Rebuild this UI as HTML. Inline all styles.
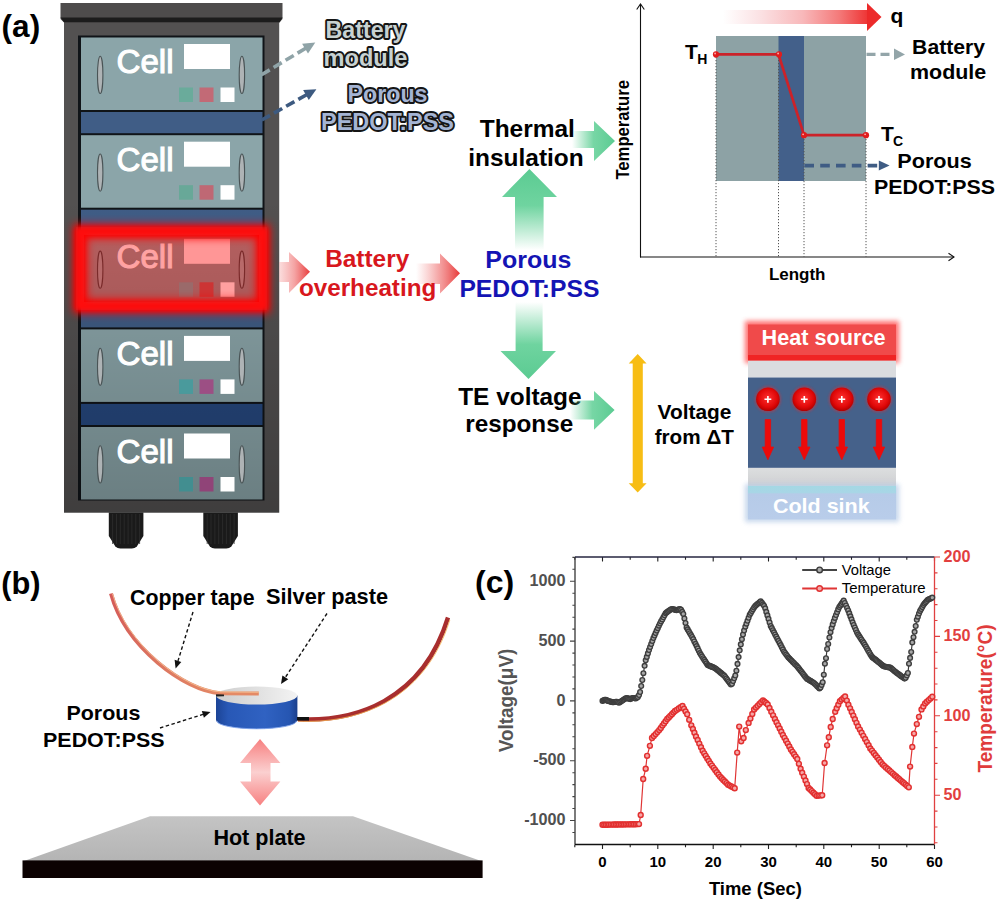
<!DOCTYPE html>
<html><head><meta charset="utf-8"><title>Figure</title>
<style>html,body{margin:0;padding:0;background:#fff;} body{width:1000px;height:904px;overflow:hidden;} svg text{font-family:'Liberation Sans',sans-serif;}</style>
</head><body>
<svg width="1000" height="904" viewBox="0 0 1000 904" style="display:block;font-family:'Liberation Sans',sans-serif">
<defs>
 <filter id="blur2" x="-20%" y="-40%" width="140%" height="180%"><feGaussianBlur stdDeviation="2.5"/></filter>
 <filter id="blur4" x="-30%" y="-60%" width="160%" height="220%"><feGaussianBlur stdDeviation="4"/></filter>
 <filter id="blur1" x="-20%" y="-20%" width="140%" height="140%"><feGaussianBlur stdDeviation="1"/></filter>
 <linearGradient id="gUp" x1="0" y1="1" x2="0" y2="0"><stop offset="0" stop-color="#5fcf95" stop-opacity="0"/><stop offset="0.55" stop-color="#5fcf95" stop-opacity="0.9"/><stop offset="1" stop-color="#5bcb92"/></linearGradient>
 <linearGradient id="gDown" x1="0" y1="0" x2="0" y2="1"><stop offset="0" stop-color="#5fcf95" stop-opacity="0"/><stop offset="0.55" stop-color="#5fcf95" stop-opacity="0.9"/><stop offset="1" stop-color="#5bcb92"/></linearGradient>
 <linearGradient id="gRight" x1="0" y1="0" x2="1" y2="0"><stop offset="0" stop-color="#5fcf95" stop-opacity="0"/><stop offset="0.5" stop-color="#5fcf95" stop-opacity="0.85"/><stop offset="1" stop-color="#5bcb92"/></linearGradient>
 <linearGradient id="rRight" x1="0" y1="0" x2="1" y2="0"><stop offset="0" stop-color="#f4a0a0" stop-opacity="0.35"/><stop offset="0.5" stop-color="#f28c8c" stop-opacity="0.8"/><stop offset="1" stop-color="#e83a3a"/></linearGradient>
 <linearGradient id="rRight2" x1="0" y1="0" x2="1" y2="0"><stop offset="0" stop-color="#f4a0a0" stop-opacity="0"/><stop offset="0.5" stop-color="#f28c8c" stop-opacity="0.75"/><stop offset="1" stop-color="#e83a3a"/></linearGradient>
 <linearGradient id="qGrad" x1="0" y1="0" x2="1" y2="0"><stop offset="0" stop-color="#ffffff"/><stop offset="0.25" stop-color="#fbe2e4"/><stop offset="0.55" stop-color="#f8b8ba"/><stop offset="0.8" stop-color="#f47a7a"/><stop offset="1" stop-color="#ee3434"/></linearGradient>
 <linearGradient id="pinkV" x1="0" y1="0" x2="0" y2="1"><stop offset="0" stop-color="#f78080"/><stop offset="0.5" stop-color="#fbd0d0"/><stop offset="1" stop-color="#f78080"/></linearGradient>
 <linearGradient id="rackShade" x1="0" y1="0" x2="0" y2="1"><stop offset="0" stop-color="#000" stop-opacity="0"/><stop offset="0.36" stop-color="#000" stop-opacity="0"/><stop offset="1" stop-color="#000" stop-opacity="0.24"/></linearGradient>
 <linearGradient id="tapeL" gradientUnits="userSpaceOnUse" x1="111" y1="593" x2="230" y2="694"><stop offset="0" stop-color="#d45a58"/><stop offset="0.5" stop-color="#dc7460"/><stop offset="1" stop-color="#e48a66"/></linearGradient>
 <linearGradient id="plateTop" x1="0" y1="0" x2="0" y2="1"><stop offset="0" stop-color="#c4c4c4"/><stop offset="1" stop-color="#b4b4b4"/></linearGradient>
 <linearGradient id="diskSide" x1="0" y1="0" x2="1" y2="0"><stop offset="0" stop-color="#1c4496"/><stop offset="0.15" stop-color="#2858b6"/><stop offset="0.6" stop-color="#3062c2"/><stop offset="0.9" stop-color="#2656b2"/><stop offset="1" stop-color="#1a3f8c"/></linearGradient>
 <linearGradient id="diskTop" x1="0" y1="0" x2="1" y2="0"><stop offset="0" stop-color="#cdcdcd"/><stop offset="1" stop-color="#f3f3f3"/></linearGradient>
 <linearGradient id="coldG" x1="0" y1="0" x2="0" y2="1"><stop offset="0" stop-color="#a4d8e4"/><stop offset="0.2" stop-color="#a8d6e6"/><stop offset="0.24" stop-color="#b6cbe8"/><stop offset="1" stop-color="#b9cdea"/></linearGradient>
 <linearGradient id="grayB" x1="0" y1="0" x2="0" y2="1"><stop offset="0" stop-color="#dcdedf"/><stop offset="1" stop-color="#cfd0d2"/></linearGradient>
 <radialGradient id="ball" cx="0.5" cy="0.45" r="0.55"><stop offset="0" stop-color="#ff3030"/><stop offset="0.7" stop-color="#e00808"/><stop offset="1" stop-color="#b00000"/></radialGradient>
 <marker id="ah" markerWidth="8" markerHeight="8" refX="7" refY="4" orient="auto" markerUnits="userSpaceOnUse"><path d="M0,0 L8,4 L0,8 z" fill="#111"/></marker>
</defs>

<text x="1.6" y="37.4" font-size="31.4" font-weight="bold" fill="#000" text-anchor="start" textLength="38.6" lengthAdjust="spacingAndGlyphs" >(a)</text>
<rect x="64" y="20" width="215.2" height="492.6" fill="#535151"/>
<path d="M60.5,3 H282.5 V19 L279.5,22.5 H64 L60.5,19 Z" fill="#4e4c4c"/>
<path d="M60.5,17.4 H282.5 L279.5,22.2 H64 Z" fill="#1c1c1c"/>
<rect x="78" y="35.5" width="186.5" height="465" fill="#101418"/>
<rect x="81" y="112.0" width="181.5" height="21.2" fill="#405d86"/>
<rect x="81" y="209.7" width="181.5" height="20.6" fill="#405d86"/>
<rect x="81" y="306.8" width="181.5" height="20.6" fill="#405d86"/>
<rect x="81" y="403.9" width="181.5" height="21.1" fill="#26487f"/>
<rect x="81" y="37.5" width="181.5" height="72.5" fill="#8ba5a9"/>
<rect x="81" y="135.2" width="181.5" height="72.5" fill="#8ba5a9"/>
<rect x="81" y="232.3" width="181.5" height="72.5" fill="#b86262"/>
<rect x="81" y="329.4" width="181.5" height="72.5" fill="#8ba5a9"/>
<rect x="81" y="427.0" width="181.5" height="72.5" fill="#8ba5a9"/>
<rect x="64" y="20" width="215.2" height="493" fill="url(#rackShade)"/>
<text x="116.5" y="73.0" font-size="33.5" font-weight="normal" fill="#ffffff" text-anchor="start" textLength="57" lengthAdjust="spacingAndGlyphs" stroke="#ffffff" stroke-width="1.1">Cell</text>
<rect x="184" y="44.0" width="46" height="25" fill="#ffffff"/>
<rect x="179" y="87.5" width="14" height="14.5" fill="#6aab9b"/>
<rect x="199.5" y="87.5" width="14" height="14.5" fill="#c26a76"/>
<rect x="220.5" y="87.5" width="14" height="14.5" fill="#ffffff"/>
<ellipse cx="100.2" cy="74.9" rx="2.7" ry="18.6" fill="#aeb3b5" stroke="#4a5456" stroke-width="1.1"/>
<ellipse cx="241.9" cy="74.9" rx="2.7" ry="18.6" fill="#aeb3b5" stroke="#4a5456" stroke-width="1.1"/>
<text x="116.5" y="170.7" font-size="33.5" font-weight="normal" fill="#ffffff" text-anchor="start" textLength="57" lengthAdjust="spacingAndGlyphs" stroke="#ffffff" stroke-width="1.1">Cell</text>
<rect x="184" y="141.7" width="46" height="25" fill="#ffffff"/>
<rect x="179" y="185.2" width="14" height="14.5" fill="#68a898"/>
<rect x="199.5" y="185.2" width="14" height="14.5" fill="#bf6874"/>
<rect x="220.5" y="185.2" width="14" height="14.5" fill="#ffffff"/>
<ellipse cx="100.2" cy="172.6" rx="2.7" ry="18.6" fill="#aeb3b5" stroke="#4a5456" stroke-width="1.1"/>
<ellipse cx="241.9" cy="172.6" rx="2.7" ry="18.6" fill="#aeb3b5" stroke="#4a5456" stroke-width="1.1"/>
<text x="116.5" y="267.8" font-size="33.5" font-weight="normal" fill="#ffa3a3" text-anchor="start" textLength="57" lengthAdjust="spacingAndGlyphs" stroke="#ffa3a3" stroke-width="1.1">Cell</text>
<rect x="184" y="238.8" width="46" height="25" fill="#ff9696"/>
<rect x="179" y="282.3" width="14" height="14.5" fill="#9a6a6a"/>
<rect x="199.5" y="282.3" width="14" height="14.5" fill="#cc3434"/>
<rect x="220.5" y="282.3" width="14" height="14.5" fill="#ffa0a0"/>
<ellipse cx="100.2" cy="269.7" rx="2.7" ry="18.6" fill="#b86a6a" stroke="#7a2a2a" stroke-width="1.1"/>
<ellipse cx="241.9" cy="269.7" rx="2.7" ry="18.6" fill="#b86a6a" stroke="#7a2a2a" stroke-width="1.1"/>
<text x="116.5" y="364.9" font-size="33.5" font-weight="normal" fill="#ffffff" text-anchor="start" textLength="57" lengthAdjust="spacingAndGlyphs" stroke="#ffffff" stroke-width="1.1">Cell</text>
<rect x="184" y="335.9" width="46" height="25" fill="#ffffff"/>
<rect x="179" y="379.4" width="14" height="14.5" fill="#4a9a9c"/>
<rect x="199.5" y="379.4" width="14" height="14.5" fill="#9c4f84"/>
<rect x="220.5" y="379.4" width="14" height="14.5" fill="#ffffff"/>
<ellipse cx="100.2" cy="366.79999999999995" rx="2.7" ry="18.6" fill="#aeb3b5" stroke="#4a5456" stroke-width="1.1"/>
<ellipse cx="241.9" cy="366.79999999999995" rx="2.7" ry="18.6" fill="#aeb3b5" stroke="#4a5456" stroke-width="1.1"/>
<text x="116.5" y="462.5" font-size="33.5" font-weight="normal" fill="#ffffff" text-anchor="start" textLength="57" lengthAdjust="spacingAndGlyphs" stroke="#ffffff" stroke-width="1.1">Cell</text>
<rect x="184" y="433.5" width="46" height="25" fill="#ffffff"/>
<rect x="179" y="477.0" width="14" height="14.5" fill="#428e90"/>
<rect x="199.5" y="477.0" width="14" height="14.5" fill="#904478"/>
<rect x="220.5" y="477.0" width="14" height="14.5" fill="#ffffff"/>
<ellipse cx="100.2" cy="464.4" rx="2.7" ry="18.6" fill="#aeb3b5" stroke="#4a5456" stroke-width="1.1"/>
<ellipse cx="241.9" cy="464.4" rx="2.7" ry="18.6" fill="#aeb3b5" stroke="#4a5456" stroke-width="1.1"/>
<rect x="80" y="231.3" width="183" height="75" fill="none" stroke="#ff0000" stroke-width="14" filter="url(#blur4)" opacity="0.95"/>
<rect x="80" y="231.3" width="183" height="75" fill="none" stroke="#ff1010" stroke-width="8" filter="url(#blur2)"/>
<path d="M108.8,512.5 H143.4 V536 L136.8,546.5 Q134.8,548.5 131.8,548.5 H120.39999999999999 Q117.39999999999999,548.5 115.39999999999999,546.5 L108.8,536 Z" fill="#1a1a1a"/>
<line x1="112.6" y1="514" x2="112.6" y2="544" stroke="#2e2e2e" stroke-width="0.8"/>
<line x1="116.5" y1="514" x2="116.5" y2="544" stroke="#2e2e2e" stroke-width="0.8"/>
<line x1="120.3" y1="514" x2="120.3" y2="544" stroke="#2e2e2e" stroke-width="0.8"/>
<line x1="124.2" y1="514" x2="124.2" y2="544" stroke="#2e2e2e" stroke-width="0.8"/>
<line x1="128.1" y1="514" x2="128.1" y2="544" stroke="#2e2e2e" stroke-width="0.8"/>
<line x1="131.9" y1="514" x2="131.9" y2="544" stroke="#2e2e2e" stroke-width="0.8"/>
<line x1="135.8" y1="514" x2="135.8" y2="544" stroke="#2e2e2e" stroke-width="0.8"/>
<line x1="139.6" y1="514" x2="139.6" y2="544" stroke="#2e2e2e" stroke-width="0.8"/>
<path d="M203.3,512.5 H237.9 V536 L231.3,546.5 Q229.3,548.5 226.3,548.5 H214.9 Q211.9,548.5 209.9,546.5 L203.3,536 Z" fill="#1a1a1a"/>
<line x1="207.2" y1="514" x2="207.2" y2="544" stroke="#2e2e2e" stroke-width="0.8"/>
<line x1="211.0" y1="514" x2="211.0" y2="544" stroke="#2e2e2e" stroke-width="0.8"/>
<line x1="214.9" y1="514" x2="214.9" y2="544" stroke="#2e2e2e" stroke-width="0.8"/>
<line x1="218.7" y1="514" x2="218.7" y2="544" stroke="#2e2e2e" stroke-width="0.8"/>
<line x1="222.6" y1="514" x2="222.6" y2="544" stroke="#2e2e2e" stroke-width="0.8"/>
<line x1="226.4" y1="514" x2="226.4" y2="544" stroke="#2e2e2e" stroke-width="0.8"/>
<line x1="230.2" y1="514" x2="230.2" y2="544" stroke="#2e2e2e" stroke-width="0.8"/>
<line x1="234.1" y1="514" x2="234.1" y2="544" stroke="#2e2e2e" stroke-width="0.8"/>
<line x1="305.7" y1="48.2" x2="260.5" y2="75.4" stroke="#8fa3a7" stroke-width="3.6" stroke-dasharray="9.5 4.5" stroke-dashoffset="0"/>
<path d="M315.3,42.4 L308.0,53.5 L302.1,43.7 Z" fill="#8fa3a7"/>
<line x1="306.6" y1="94.7" x2="260.5" y2="120.7" stroke="#3d5a80" stroke-width="3.6" stroke-dasharray="9.5 4.5" stroke-dashoffset="0"/>
<path d="M316.4,89.2 L308.8,100.1 L303.1,90.1 Z" fill="#3d5a80"/>
<text x="365.5" y="37.5" font-size="23.3" font-weight="bold" fill="#c8d2d2" stroke="#151515" stroke-width="3.8" paint-order="stroke" stroke-linejoin="round" text-anchor="middle" textLength="80" lengthAdjust="spacingAndGlyphs">Battery</text>
<text x="365.5" y="66" font-size="23.3" font-weight="bold" fill="#c8d2d2" stroke="#151515" stroke-width="3.8" paint-order="stroke" stroke-linejoin="round" text-anchor="middle" textLength="84" lengthAdjust="spacingAndGlyphs">module</text>
<text x="387.5" y="101.5" font-size="23.5" font-weight="bold" fill="#a4b4d4" stroke="#151515" stroke-width="3.8" paint-order="stroke" stroke-linejoin="round" text-anchor="middle" textLength="80" lengthAdjust="spacingAndGlyphs">Porous</text>
<text x="387.5" y="129.5" font-size="23.5" font-weight="bold" fill="#a4b4d4" stroke="#151515" stroke-width="3.8" paint-order="stroke" stroke-linejoin="round" text-anchor="middle" textLength="133" lengthAdjust="spacingAndGlyphs">PEDOT:PSS</text>
<text x="527.3" y="137" font-size="24" font-weight="bold" fill="#000" text-anchor="middle" textLength="95.2" lengthAdjust="spacingAndGlyphs" >Thermal</text>
<text x="526" y="165.6" font-size="24" font-weight="bold" fill="#000" text-anchor="middle" textLength="115.4" lengthAdjust="spacingAndGlyphs" >insulation</text>
<path d="M572,131 H594 V121 L615,141 L594,161 V148 H572 Z" fill="url(#gRight)"/>
<path d="M515,250 V197 H502 L529.4,169 L557,197 H543.6 V250 Z" fill="url(#gUp)"/>
<path d="M279,262 H289 V252 L310,271.8 L289,293 V282 H279 Z" fill="url(#rRight)"/>
<path d="M416,263.6 H440 V253.6 L460,273.3 L440,293.6 V284 H416 Z" fill="url(#rRight2)"/>
<text x="367.2" y="267.3" font-size="23.7" font-weight="bold" fill="#d8171d" text-anchor="middle" textLength="84" lengthAdjust="spacingAndGlyphs" >Battery</text>
<text x="367.6" y="295.6" font-size="23.7" font-weight="bold" fill="#d8171d" text-anchor="middle" textLength="137.4" lengthAdjust="spacingAndGlyphs" >overheating</text>
<text x="528.3" y="268.4" font-size="24" font-weight="bold" fill="#1414b4" text-anchor="middle" textLength="86" lengthAdjust="spacingAndGlyphs" >Porous</text>
<text x="529.4" y="297" font-size="24" font-weight="bold" fill="#1414b4" text-anchor="middle" textLength="140" lengthAdjust="spacingAndGlyphs" >PEDOT:PSS</text>
<path d="M515.6,302 V351 H500.5 L528.5,379 L556,351 H542.6 V302 Z" fill="url(#gDown)"/>
<text x="519.9" y="405" font-size="24" font-weight="bold" fill="#000" text-anchor="middle" textLength="123.4" lengthAdjust="spacingAndGlyphs" >TE voltage</text>
<text x="519.2" y="432" font-size="24" font-weight="bold" fill="#000" text-anchor="middle" textLength="108" lengthAdjust="spacingAndGlyphs" >response</text>
<path d="M570,400.5 H594 V391 L614.6,410 L594,429.7 V419.5 H570 Z" fill="url(#gRight)"/>
<rect x="716" y="36" width="150" height="145" fill="#8da2a5"/>
<rect x="778.5" y="36" width="25.5" height="145" fill="#43608a"/>
<line x1="716" y1="54" x2="716" y2="256.5" stroke="#555" stroke-width="1" stroke-dasharray="1.2 1.8"/>
<line x1="778.5" y1="54" x2="778.5" y2="256.5" stroke="#555" stroke-width="1" stroke-dasharray="1.2 1.8"/>
<line x1="804" y1="136" x2="804" y2="256.5" stroke="#555" stroke-width="1" stroke-dasharray="1.2 1.8"/>
<line x1="866" y1="136" x2="866" y2="256.5" stroke="#555" stroke-width="1" stroke-dasharray="1.2 1.8"/>
<line x1="640.5" y1="4" x2="640.5" y2="257.5" stroke="#111" stroke-width="1.1"/>
<line x1="640" y1="257" x2="954" y2="257" stroke="#111" stroke-width="1.1"/>
<path d="M636.7,9.5 L640.5,4 L644.3,9.5" fill="none" stroke="#111" stroke-width="1.1"/>
<path d="M948.5,253.2 L954,257 L948.5,260.8" fill="none" stroke="#111" stroke-width="1.1"/>
<polyline points="716,54.4 778.5,54.4 804,135.2 866,135.2" fill="none" stroke="#cc2229" stroke-width="2.7"/>
<circle cx="716" cy="54.4" r="3.1" fill="#e01c1c"/><circle cx="715.1" cy="53.5" r="0.9" fill="#ffb0b0"/>
<circle cx="779" cy="54.4" r="3.1" fill="#e01c1c"/><circle cx="778.1" cy="53.5" r="0.9" fill="#ffb0b0"/>
<circle cx="804" cy="135.2" r="3.1" fill="#e01c1c"/><circle cx="803.1" cy="134.29999999999998" r="0.9" fill="#ffb0b0"/>
<circle cx="866" cy="135.2" r="3.1" fill="#e01c1c"/><circle cx="865.1" cy="134.29999999999998" r="0.9" fill="#ffb0b0"/>
<text x="685" y="59" font-size="21" font-weight="bold" fill="#000" text-anchor="start" >T</text>
<text x="697.3" y="63.6" font-size="14" font-weight="bold" fill="#000" text-anchor="start" >H</text>
<text x="881" y="141" font-size="21" font-weight="bold" fill="#000" text-anchor="start" >T</text>
<text x="893" y="146" font-size="14" font-weight="bold" fill="#000" text-anchor="start" >C</text>
<rect x="723" y="10" width="145" height="14" fill="url(#qGrad)"/>
<path d="M867,3 L881.5,17 L867,31 Z" fill="#ec2a2a"/>
<text x="890.5" y="22.6" font-size="21" font-weight="bold" fill="#000" text-anchor="start" >q</text>
<line x1="866.5" y1="54.4" x2="894.8" y2="54.4" stroke="#93a5a9" stroke-width="3.4" stroke-dasharray="9 5" stroke-dashoffset="0"/>
<path d="M905,54.4 L894.0,60.1 L894.0,48.6 Z" fill="#93a5a9"/>
<line x1="804.4" y1="165.6" x2="879.6" y2="165.6" stroke="#3f5c84" stroke-width="3.8" stroke-dasharray="9.6 6.2" stroke-dashoffset="0"/>
<path d="M889.6,165.6 L878.8,170.6 L878.8,160.6 Z" fill="#3f5c84"/>
<text x="948.6" y="53.6" font-size="21" font-weight="bold" fill="#000" text-anchor="middle" textLength="73" lengthAdjust="spacingAndGlyphs" >Battery</text>
<text x="948.1" y="79" font-size="21" font-weight="bold" fill="#000" text-anchor="middle" textLength="76.2" lengthAdjust="spacingAndGlyphs" >module</text>
<text x="934.5" y="168" font-size="21" font-weight="bold" fill="#000" text-anchor="middle" textLength="74.4" lengthAdjust="spacingAndGlyphs" >Porous</text>
<text x="934.5" y="194" font-size="21" font-weight="bold" fill="#000" text-anchor="middle" textLength="121" lengthAdjust="spacingAndGlyphs" >PEDOT:PSS</text>
<text x="797.2" y="280.3" font-size="16.3" font-weight="bold" fill="#000" text-anchor="middle" textLength="56.6" lengthAdjust="spacingAndGlyphs" >Length</text>
<text transform="translate(629.2,129.8) rotate(-90)" font-size="17.5" font-weight="bold" text-anchor="middle" textLength="99.5" lengthAdjust="spacingAndGlyphs">Temperature</text>
<path d="M637.7,354.1 L646.6,363.4 H642.8 V483.3 H646.6 L637.7,492.6 L628.7,483.3 H632.7 V363.4 H628.7 Z" fill="#f7bd14"/>
<text x="694.5" y="418.8" font-size="21" font-weight="bold" fill="#000" text-anchor="middle" textLength="73.8" lengthAdjust="spacingAndGlyphs" >Voltage</text>
<text x="694.3" y="444" font-size="21" font-weight="bold" fill="#000" text-anchor="middle" textLength="79.3" lengthAdjust="spacingAndGlyphs" >from &#916;T</text>
<rect x="745" y="321" width="154" height="42" fill="#ff5555" filter="url(#blur2)" opacity="0.85"/>
<rect x="748" y="324.5" width="148" height="36" fill="#f04a4a"/>
<rect x="748" y="355" width="148" height="5.7" fill="#f02424"/>
<text x="823.5" y="345.3" font-size="21.3" font-weight="bold" fill="#fff" text-anchor="middle" textLength="124" lengthAdjust="spacingAndGlyphs" >Heat source</text>
<rect x="748" y="360.7" width="148" height="16.8" fill="#dadcdf"/>
<rect x="748" y="377.5" width="148" height="90.4" fill="#45618a"/>
<rect x="748" y="467.9" width="148" height="18" fill="url(#grayB)"/>
<rect x="745" y="484" width="154" height="38" fill="#b8cde8" filter="url(#blur2)" opacity="0.8"/>
<rect x="748" y="485.9" width="148" height="33.5" fill="url(#coldG)"/>
<text x="821.3" y="512.6" font-size="21" font-weight="bold" fill="#fff" text-anchor="middle" textLength="96.8" lengthAdjust="spacingAndGlyphs" >Cold sink</text>
<circle cx="767.9" cy="399.3" r="13.2" fill="#ff2020" opacity="0.35" filter="url(#blur1)"/>
<circle cx="767.9" cy="399.3" r="11.8" fill="url(#ball)"/>
<path d="M764.5,399.3 h6.8 M767.9,395.9 v6.8" stroke="#fff" stroke-width="1.6"/>
<path d="M765.1999999999999,419.5 h5.4 v27.5 h3 L767.9,459.7 L762.1999999999999,447 h3 Z" fill="#ec0a0a" stroke="#ec0a0a" stroke-width="0.8" stroke-linejoin="round"/>
<circle cx="804.3" cy="399.3" r="13.2" fill="#ff2020" opacity="0.35" filter="url(#blur1)"/>
<circle cx="804.3" cy="399.3" r="11.8" fill="url(#ball)"/>
<path d="M800.9,399.3 h6.8 M804.3,395.9 v6.8" stroke="#fff" stroke-width="1.6"/>
<path d="M801.5999999999999,419.5 h5.4 v27.5 h3 L804.3,459.7 L798.5999999999999,447 h3 Z" fill="#ec0a0a" stroke="#ec0a0a" stroke-width="0.8" stroke-linejoin="round"/>
<circle cx="841.8" cy="399.3" r="13.2" fill="#ff2020" opacity="0.35" filter="url(#blur1)"/>
<circle cx="841.8" cy="399.3" r="11.8" fill="url(#ball)"/>
<path d="M838.4,399.3 h6.8 M841.8,395.9 v6.8" stroke="#fff" stroke-width="1.6"/>
<path d="M839.0999999999999,419.5 h5.4 v27.5 h3 L841.8,459.7 L836.0999999999999,447 h3 Z" fill="#ec0a0a" stroke="#ec0a0a" stroke-width="0.8" stroke-linejoin="round"/>
<circle cx="879" cy="399.3" r="13.2" fill="#ff2020" opacity="0.35" filter="url(#blur1)"/>
<circle cx="879" cy="399.3" r="11.8" fill="url(#ball)"/>
<path d="M875.6,399.3 h6.8 M879,395.9 v6.8" stroke="#fff" stroke-width="1.6"/>
<path d="M876.3,419.5 h5.4 v27.5 h3 L879,459.7 L873.3,447 h3 Z" fill="#ec0a0a" stroke="#ec0a0a" stroke-width="0.8" stroke-linejoin="round"/>
<text x="1.2" y="593.9" font-size="31.5" font-weight="bold" fill="#000" text-anchor="start" textLength="39.4" lengthAdjust="spacingAndGlyphs" >(b)</text>
<text x="130" y="605" font-size="21.3" font-weight="bold" fill="#000" text-anchor="start" textLength="124.5" lengthAdjust="spacingAndGlyphs" >Copper tape</text>
<text x="266" y="603.5" font-size="21.4" font-weight="bold" fill="#000" text-anchor="start" textLength="122" lengthAdjust="spacingAndGlyphs" >Silver paste</text>
<text x="103.4" y="720" font-size="21" font-weight="bold" fill="#000" text-anchor="middle" textLength="74" lengthAdjust="spacingAndGlyphs" >Porous</text>
<text x="103.8" y="747" font-size="21" font-weight="bold" fill="#000" text-anchor="middle" textLength="121.5" lengthAdjust="spacingAndGlyphs" >PEDOT:PSS</text>
<path d="M216,695.6 V720 A40.7,9 0 0 0 297.4,720 V695.6 Z" fill="url(#diskSide)"/>
<path d="M217,721 A39.7,7.8 0 0 0 296.4,721" fill="none" stroke="#7fa3ea" stroke-width="1" opacity="0.9"/>
<ellipse cx="256.7" cy="695.6" rx="40.7" ry="9" fill="url(#diskTop)"/>
<path d="M111,593.5 C125.7,647.5 184.8,690.6 220,693.2 L258.8,693.6" fill="none" stroke="url(#tapeL)" stroke-width="4"/>
<path d="M112.4,593.5 C127,646.5 185.5,689.4 220,691.9 L258.8,692.3" fill="none" stroke="#f7c394" stroke-width="1" opacity="0.85"/>
<path d="M216,694.2 L224,694.4 L224,696.3 L216,696.6 Z" fill="#222"/>
<path d="M298,719.2 C353.5,722.1 422.2,701.8 448,617.5" fill="none" stroke="#a82e2e" stroke-width="4.4"/>
<path d="M298,721.1 C354,723.9 424,703.5 449.8,620" fill="none" stroke="#f3b050" stroke-width="0.9" opacity="0.9"/>
<rect x="297" y="717" width="12" height="3.6" fill="#111"/>
<line x1="193" y1="612" x2="178.0" y2="660.9" stroke="#111" stroke-width="1.4" stroke-dasharray="3.5 2.5"/>
<path d="M175.6,668.5 L174.6,659.8 L181.3,661.9 Z" fill="#111"/>
<line x1="327" y1="613.5" x2="285.4" y2="677.3" stroke="#111" stroke-width="1.4" stroke-dasharray="3.5 2.5"/>
<path d="M281,684 L282.4,675.4 L288.3,679.2 Z" fill="#111"/>
<line x1="160" y1="728" x2="202.9" y2="714.4" stroke="#111" stroke-width="1.4" stroke-dasharray="3.5 2.5"/>
<path d="M210.5,712 L203.9,717.8 L201.8,711.1 Z" fill="#111"/>
<path d="M260,739 L280.4,763 H270.5 V781.6 H280.4 L260,805.6 L240,781.6 H251 V763 H240 Z" fill="url(#pinkV)"/>
<path d="M150,816.3 H353 L482.6,861.4 H22.5 Z" fill="url(#plateTop)"/>
<rect x="22.5" y="860.4" width="460.1" height="17.6" fill="#0c0202"/>
<text x="213.4" y="845" font-size="21.2" font-weight="bold" fill="#000" text-anchor="start" textLength="92.2" lengthAdjust="spacingAndGlyphs" >Hot plate</text>
<text x="475" y="593.4" font-size="31" font-weight="bold" fill="#000" text-anchor="start" textLength="39.2" lengthAdjust="spacingAndGlyphs" >(c)</text>
<path d="M572.4,832.5H575M570,820.5H575M572.4,808.5H575M572.4,796.6H575M572.4,784.6H575M572.4,772.7H575M570,760.7H575M572.4,748.7H575M572.4,736.8H575M572.4,724.8H575M572.4,712.9H575M570,700.9H575M572.4,688.9H575M572.4,677.0H575M572.4,665.0H575M572.4,653.1H575M570,641.1H575M572.4,629.1H575M572.4,617.2H575M572.4,605.2H575M572.4,593.3H575M570,581.3H575M572.4,569.3H575M572.4,557.4H575" stroke="#444" stroke-width="1.1"/>
<path d="M574.8,844.5v2.8M574.8,557v2.8M602.5,844.5v4.5M602.5,557v4.5M630.2,844.5v2.8M630.2,557v2.8M657.8,844.5v4.5M657.8,557v4.5M685.5,844.5v2.8M685.5,557v2.8M713.2,844.5v4.5M713.2,557v4.5M740.8,844.5v2.8M740.8,557v2.8M768.5,844.5v4.5M768.5,557v4.5M796.2,844.5v2.8M796.2,557v2.8M823.8,844.5v4.5M823.8,557v4.5M851.5,844.5v2.8M851.5,557v2.8M879.2,844.5v4.5M879.2,557v4.5M906.8,844.5v2.8M906.8,557v2.8M934.5,844.5v4.5M934.5,557v4.5" stroke="#222" stroke-width="1.1"/>
<path d="M934.5,842.8h3M934.5,827.0h3M934.5,811.1h3M934.5,795.2h5.5M934.5,779.3h3M934.5,763.4h3M934.5,747.6h3M934.5,731.7h3M934.5,715.8h5.5M934.5,699.9h3M934.5,684.0h3M934.5,668.2h3M934.5,652.3h3M934.5,636.4h5.5M934.5,620.5h3M934.5,604.6h3M934.5,588.8h3M934.5,572.9h3M934.5,557.0h5.5" stroke="#e04040" stroke-width="1.1"/>
<line x1="575" y1="557" x2="575" y2="844.5" stroke="#444" stroke-width="1.4"/>
<line x1="575" y1="844.5" x2="934.5" y2="844.5" stroke="#111" stroke-width="1.4"/>
<line x1="575" y1="557" x2="934.5" y2="557" stroke="#262640" stroke-width="1.4"/>
<line x1="934.5" y1="557" x2="934.5" y2="844.5" stroke="#e04040" stroke-width="1.3"/>
<text x="565.6" y="585.9" font-size="16.2" font-weight="bold" fill="#505050" text-anchor="end" >1000</text>
<text x="565.6" y="645.7" font-size="16.2" font-weight="bold" fill="#505050" text-anchor="end" >500</text>
<text x="565.6" y="705.5" font-size="16.2" font-weight="bold" fill="#505050" text-anchor="end" >0</text>
<text x="565.6" y="765.3" font-size="16.2" font-weight="bold" fill="#505050" text-anchor="end" >-500</text>
<text x="565.6" y="825.1" font-size="16.2" font-weight="bold" fill="#505050" text-anchor="end" >-1000</text>
<text x="602.5" y="867" font-size="15" font-weight="bold" fill="#000" text-anchor="middle" >0</text>
<text x="657.8" y="867" font-size="15" font-weight="bold" fill="#000" text-anchor="middle" >10</text>
<text x="713.2" y="867" font-size="15" font-weight="bold" fill="#000" text-anchor="middle" >20</text>
<text x="768.5" y="867" font-size="15" font-weight="bold" fill="#000" text-anchor="middle" >30</text>
<text x="823.8" y="867" font-size="15" font-weight="bold" fill="#000" text-anchor="middle" >40</text>
<text x="879.2" y="867" font-size="15" font-weight="bold" fill="#000" text-anchor="middle" >50</text>
<text x="934.5" y="867" font-size="15" font-weight="bold" fill="#000" text-anchor="middle" >60</text>
<text x="943.4" y="800.1" font-size="16.2" font-weight="bold" fill="#e23f3f" text-anchor="start" >50</text>
<text x="943.4" y="720.7" font-size="16.2" font-weight="bold" fill="#e23f3f" text-anchor="start" >100</text>
<text x="943.4" y="641.3" font-size="16.2" font-weight="bold" fill="#e23f3f" text-anchor="start" >150</text>
<text x="943.4" y="561.9" font-size="16.2" font-weight="bold" fill="#e23f3f" text-anchor="start" >200</text>
<text x="755.4" y="895" font-size="18.5" font-weight="bold" fill="#000" text-anchor="middle" textLength="93" lengthAdjust="spacingAndGlyphs" >Time (Sec)</text>
<text transform="translate(512.9,700.5) rotate(-90)" font-size="19.5" font-weight="bold" fill="#555" text-anchor="middle" textLength="103.6" lengthAdjust="spacingAndGlyphs">Voltage(&#956;V)</text>
<text transform="translate(992.4,698.5) rotate(-90)" font-size="19.5" font-weight="bold" fill="#e03c3c" text-anchor="middle" textLength="148" lengthAdjust="spacingAndGlyphs">Temperature(&#176;C)</text>
<polyline points="602.5,824.7 604.2,824.7 605.8,824.7 607.5,824.7 609.1,824.6 610.8,824.6 612.5,824.6 614.1,824.5 615.8,824.5 617.4,824.5 619.1,824.4 620.8,824.4 622.4,824.4 624.1,824.4 625.7,824.3 627.4,824.3 629.1,824.3 630.7,824.2 632.4,824.2 634.0,824.2 635.7,824.2 637.4,824.1 639.0,824.1 640.7,815.0 643.2,779.0 645.7,768.7 647.1,755.8 649.9,745.8 652.0,738.0 653.8,736.0 655.6,734.1 657.4,732.1 659.2,730.1 660.8,727.9 662.4,725.6 664.0,723.4 665.6,721.2 667.2,719.0 668.8,717.4 670.3,715.8 671.9,714.2 673.4,712.6 675.0,711.0 676.8,709.8 678.7,708.5 680.6,707.2 682.5,706.0 684.0,708.7 685.6,711.5 687.2,714.2 689.2,719.8 691.3,725.3 692.9,729.0 694.4,732.7 696.0,736.4 697.7,740.0 699.3,743.6 701.0,747.2 702.6,750.7 704.2,753.3 705.7,755.8 707.3,758.4 708.8,760.9 710.4,763.4 712.0,765.6 713.6,767.8 715.2,770.0 716.8,772.2 718.5,774.4 720.1,776.6 721.7,778.2 723.3,779.9 724.9,781.5 726.5,783.1 728.1,784.7 729.8,785.6 731.4,786.5 733.1,787.3 734.7,788.2 737.2,752.6 739.2,726.6 741.2,741.2 743.6,738.0 745.8,730.1 748.6,722.9 750.4,718.4 752.3,713.9 754.1,709.4 755.9,707.6 757.6,705.8 759.4,704.0 761.2,702.2 763.0,700.4 764.5,701.7 766.1,703.0 767.7,704.4 769.5,708.0 771.3,711.7 773.1,715.3 774.9,719.0 776.5,722.2 778.1,725.3 779.7,728.5 781.3,731.7 782.9,734.9 784.5,737.8 786.1,740.7 787.7,743.6 789.3,746.5 790.9,749.5 792.5,751.8 794.1,754.2 795.7,756.6 797.3,759.0 798.9,763.8 800.6,768.7 802.2,772.7 803.9,776.6 805.5,780.4 807.0,784.1 808.6,787.9 810.2,789.5 811.8,791.1 813.4,792.7 815.0,794.2 816.6,795.8 818.5,795.6 820.3,795.4 822.2,795.2 824.6,763.0 827.1,745.3 828.8,737.2 830.7,726.9 832.7,719.0 835.2,711.7 836.7,708.2 838.3,704.7 839.9,701.2 841.6,699.6 843.4,698.0 845.1,696.4 846.8,700.6 848.4,704.7 850.1,708.3 851.7,711.9 853.3,715.6 854.9,719.2 856.5,722.8 858.1,726.4 859.9,729.6 861.6,732.7 863.3,735.8 865.1,739.0 866.8,742.1 868.6,745.2 870.3,748.4 872.0,750.6 873.8,752.9 875.5,755.2 877.3,757.4 879.0,759.7 880.7,762.0 882.5,764.2 884.2,765.8 885.9,767.4 887.7,768.9 889.4,770.5 891.2,772.1 892.9,773.6 894.6,775.2 896.2,776.5 897.8,777.9 899.3,779.2 900.9,780.6 902.5,781.9 904.0,783.2 905.6,784.6 907.2,785.9 908.8,787.3 910.1,766.6 912.3,746.9 914.0,733.6 916.8,724.1 919.0,716.8 921.5,709.4 923.3,706.4 925.1,703.4 926.9,701.7 928.7,700.1 930.5,698.4 932.3,696.7" fill="none" stroke="#e03535" stroke-width="1.2"/>
<g fill="#f5a8a8" stroke="#e23030" stroke-width="1.45"><circle cx="602.5" cy="824.7" r="2.45"/><circle cx="604.2" cy="824.7" r="2.45"/><circle cx="605.8" cy="824.7" r="2.45"/><circle cx="607.5" cy="824.7" r="2.45"/><circle cx="609.1" cy="824.6" r="2.45"/><circle cx="610.8" cy="824.6" r="2.45"/><circle cx="612.5" cy="824.6" r="2.45"/><circle cx="614.1" cy="824.5" r="2.45"/><circle cx="615.8" cy="824.5" r="2.45"/><circle cx="617.4" cy="824.5" r="2.45"/><circle cx="619.1" cy="824.4" r="2.45"/><circle cx="620.8" cy="824.4" r="2.45"/><circle cx="622.4" cy="824.4" r="2.45"/><circle cx="624.1" cy="824.4" r="2.45"/><circle cx="625.7" cy="824.3" r="2.45"/><circle cx="627.4" cy="824.3" r="2.45"/><circle cx="629.1" cy="824.3" r="2.45"/><circle cx="630.7" cy="824.2" r="2.45"/><circle cx="632.4" cy="824.2" r="2.45"/><circle cx="634.0" cy="824.2" r="2.45"/><circle cx="635.7" cy="824.2" r="2.45"/><circle cx="637.4" cy="824.1" r="2.45"/><circle cx="639.0" cy="824.1" r="2.45"/><circle cx="640.7" cy="815.0" r="2.45"/><circle cx="643.2" cy="779.0" r="2.45"/><circle cx="645.7" cy="768.7" r="2.45"/><circle cx="647.1" cy="755.8" r="2.45"/><circle cx="649.9" cy="745.8" r="2.45"/><circle cx="652.0" cy="738.0" r="2.45"/><circle cx="653.8" cy="736.0" r="2.45"/><circle cx="655.6" cy="734.1" r="2.45"/><circle cx="657.4" cy="732.1" r="2.45"/><circle cx="659.2" cy="730.1" r="2.45"/><circle cx="660.8" cy="727.9" r="2.45"/><circle cx="662.4" cy="725.6" r="2.45"/><circle cx="664.0" cy="723.4" r="2.45"/><circle cx="665.6" cy="721.2" r="2.45"/><circle cx="667.2" cy="719.0" r="2.45"/><circle cx="668.8" cy="717.4" r="2.45"/><circle cx="670.3" cy="715.8" r="2.45"/><circle cx="671.9" cy="714.2" r="2.45"/><circle cx="673.4" cy="712.6" r="2.45"/><circle cx="675.0" cy="711.0" r="2.45"/><circle cx="676.8" cy="709.8" r="2.45"/><circle cx="678.7" cy="708.5" r="2.45"/><circle cx="680.6" cy="707.2" r="2.45"/><circle cx="682.5" cy="706.0" r="2.45"/><circle cx="684.0" cy="708.7" r="2.45"/><circle cx="685.6" cy="711.5" r="2.45"/><circle cx="687.2" cy="714.2" r="2.45"/><circle cx="689.2" cy="719.8" r="2.45"/><circle cx="691.3" cy="725.3" r="2.45"/><circle cx="692.9" cy="729.0" r="2.45"/><circle cx="694.4" cy="732.7" r="2.45"/><circle cx="696.0" cy="736.4" r="2.45"/><circle cx="697.7" cy="740.0" r="2.45"/><circle cx="699.3" cy="743.6" r="2.45"/><circle cx="701.0" cy="747.2" r="2.45"/><circle cx="702.6" cy="750.7" r="2.45"/><circle cx="704.2" cy="753.3" r="2.45"/><circle cx="705.7" cy="755.8" r="2.45"/><circle cx="707.3" cy="758.4" r="2.45"/><circle cx="708.8" cy="760.9" r="2.45"/><circle cx="710.4" cy="763.4" r="2.45"/><circle cx="712.0" cy="765.6" r="2.45"/><circle cx="713.6" cy="767.8" r="2.45"/><circle cx="715.2" cy="770.0" r="2.45"/><circle cx="716.8" cy="772.2" r="2.45"/><circle cx="718.5" cy="774.4" r="2.45"/><circle cx="720.1" cy="776.6" r="2.45"/><circle cx="721.7" cy="778.2" r="2.45"/><circle cx="723.3" cy="779.9" r="2.45"/><circle cx="724.9" cy="781.5" r="2.45"/><circle cx="726.5" cy="783.1" r="2.45"/><circle cx="728.1" cy="784.7" r="2.45"/><circle cx="729.8" cy="785.6" r="2.45"/><circle cx="731.4" cy="786.5" r="2.45"/><circle cx="733.1" cy="787.3" r="2.45"/><circle cx="734.7" cy="788.2" r="2.45"/><circle cx="737.2" cy="752.6" r="2.45"/><circle cx="739.2" cy="726.6" r="2.45"/><circle cx="741.2" cy="741.2" r="2.45"/><circle cx="743.6" cy="738.0" r="2.45"/><circle cx="745.8" cy="730.1" r="2.45"/><circle cx="748.6" cy="722.9" r="2.45"/><circle cx="750.4" cy="718.4" r="2.45"/><circle cx="752.3" cy="713.9" r="2.45"/><circle cx="754.1" cy="709.4" r="2.45"/><circle cx="755.9" cy="707.6" r="2.45"/><circle cx="757.6" cy="705.8" r="2.45"/><circle cx="759.4" cy="704.0" r="2.45"/><circle cx="761.2" cy="702.2" r="2.45"/><circle cx="763.0" cy="700.4" r="2.45"/><circle cx="764.5" cy="701.7" r="2.45"/><circle cx="766.1" cy="703.0" r="2.45"/><circle cx="767.7" cy="704.4" r="2.45"/><circle cx="769.5" cy="708.0" r="2.45"/><circle cx="771.3" cy="711.7" r="2.45"/><circle cx="773.1" cy="715.3" r="2.45"/><circle cx="774.9" cy="719.0" r="2.45"/><circle cx="776.5" cy="722.2" r="2.45"/><circle cx="778.1" cy="725.3" r="2.45"/><circle cx="779.7" cy="728.5" r="2.45"/><circle cx="781.3" cy="731.7" r="2.45"/><circle cx="782.9" cy="734.9" r="2.45"/><circle cx="784.5" cy="737.8" r="2.45"/><circle cx="786.1" cy="740.7" r="2.45"/><circle cx="787.7" cy="743.6" r="2.45"/><circle cx="789.3" cy="746.5" r="2.45"/><circle cx="790.9" cy="749.5" r="2.45"/><circle cx="792.5" cy="751.8" r="2.45"/><circle cx="794.1" cy="754.2" r="2.45"/><circle cx="795.7" cy="756.6" r="2.45"/><circle cx="797.3" cy="759.0" r="2.45"/><circle cx="798.9" cy="763.8" r="2.45"/><circle cx="800.6" cy="768.7" r="2.45"/><circle cx="802.2" cy="772.7" r="2.45"/><circle cx="803.9" cy="776.6" r="2.45"/><circle cx="805.5" cy="780.4" r="2.45"/><circle cx="807.0" cy="784.1" r="2.45"/><circle cx="808.6" cy="787.9" r="2.45"/><circle cx="810.2" cy="789.5" r="2.45"/><circle cx="811.8" cy="791.1" r="2.45"/><circle cx="813.4" cy="792.7" r="2.45"/><circle cx="815.0" cy="794.2" r="2.45"/><circle cx="816.6" cy="795.8" r="2.45"/><circle cx="818.5" cy="795.6" r="2.45"/><circle cx="820.3" cy="795.4" r="2.45"/><circle cx="822.2" cy="795.2" r="2.45"/><circle cx="824.6" cy="763.0" r="2.45"/><circle cx="827.1" cy="745.3" r="2.45"/><circle cx="828.8" cy="737.2" r="2.45"/><circle cx="830.7" cy="726.9" r="2.45"/><circle cx="832.7" cy="719.0" r="2.45"/><circle cx="835.2" cy="711.7" r="2.45"/><circle cx="836.7" cy="708.2" r="2.45"/><circle cx="838.3" cy="704.7" r="2.45"/><circle cx="839.9" cy="701.2" r="2.45"/><circle cx="841.6" cy="699.6" r="2.45"/><circle cx="843.4" cy="698.0" r="2.45"/><circle cx="845.1" cy="696.4" r="2.45"/><circle cx="846.8" cy="700.6" r="2.45"/><circle cx="848.4" cy="704.7" r="2.45"/><circle cx="850.1" cy="708.3" r="2.45"/><circle cx="851.7" cy="711.9" r="2.45"/><circle cx="853.3" cy="715.6" r="2.45"/><circle cx="854.9" cy="719.2" r="2.45"/><circle cx="856.5" cy="722.8" r="2.45"/><circle cx="858.1" cy="726.4" r="2.45"/><circle cx="859.9" cy="729.6" r="2.45"/><circle cx="861.6" cy="732.7" r="2.45"/><circle cx="863.3" cy="735.8" r="2.45"/><circle cx="865.1" cy="739.0" r="2.45"/><circle cx="866.8" cy="742.1" r="2.45"/><circle cx="868.6" cy="745.2" r="2.45"/><circle cx="870.3" cy="748.4" r="2.45"/><circle cx="872.0" cy="750.6" r="2.45"/><circle cx="873.8" cy="752.9" r="2.45"/><circle cx="875.5" cy="755.2" r="2.45"/><circle cx="877.3" cy="757.4" r="2.45"/><circle cx="879.0" cy="759.7" r="2.45"/><circle cx="880.7" cy="762.0" r="2.45"/><circle cx="882.5" cy="764.2" r="2.45"/><circle cx="884.2" cy="765.8" r="2.45"/><circle cx="885.9" cy="767.4" r="2.45"/><circle cx="887.7" cy="768.9" r="2.45"/><circle cx="889.4" cy="770.5" r="2.45"/><circle cx="891.2" cy="772.1" r="2.45"/><circle cx="892.9" cy="773.6" r="2.45"/><circle cx="894.6" cy="775.2" r="2.45"/><circle cx="896.2" cy="776.5" r="2.45"/><circle cx="897.8" cy="777.9" r="2.45"/><circle cx="899.3" cy="779.2" r="2.45"/><circle cx="900.9" cy="780.6" r="2.45"/><circle cx="902.5" cy="781.9" r="2.45"/><circle cx="904.0" cy="783.2" r="2.45"/><circle cx="905.6" cy="784.6" r="2.45"/><circle cx="907.2" cy="785.9" r="2.45"/><circle cx="908.8" cy="787.3" r="2.45"/><circle cx="910.1" cy="766.6" r="2.45"/><circle cx="912.3" cy="746.9" r="2.45"/><circle cx="914.0" cy="733.6" r="2.45"/><circle cx="916.8" cy="724.1" r="2.45"/><circle cx="919.0" cy="716.8" r="2.45"/><circle cx="921.5" cy="709.4" r="2.45"/><circle cx="923.3" cy="706.4" r="2.45"/><circle cx="925.1" cy="703.4" r="2.45"/><circle cx="926.9" cy="701.7" r="2.45"/><circle cx="928.7" cy="700.1" r="2.45"/><circle cx="930.5" cy="698.4" r="2.45"/><circle cx="932.3" cy="696.7" r="2.45"/></g>
<polyline points="602.5,700.9 603.6,700.4 604.7,699.9 605.8,699.9 606.9,700.4 608.0,700.9 609.1,701.2 610.2,701.6 611.4,701.9 612.5,702.3 613.6,702.3 614.7,702.0 615.8,701.7 616.9,701.7 618.0,702.2 619.1,702.7 620.2,702.0 621.3,701.3 622.4,700.5 623.5,699.8 624.6,699.0 625.7,698.3 626.8,698.1 628.0,698.4 629.1,698.8 630.2,699.1 631.3,698.6 632.4,698.1 633.5,698.0 634.6,698.3 635.7,698.5 636.8,697.7 637.9,696.9 639.0,695.0 640.1,692.0 641.2,686.0 642.3,680.0 643.4,673.2 644.6,665.8 645.7,660.3 646.8,656.9 647.9,653.4 649.0,650.0 650.1,647.0 651.2,644.0 652.3,641.0 653.4,638.0 654.5,635.5 655.6,633.1 656.7,630.6 657.8,628.2 658.9,625.7 660.0,623.5 661.1,621.4 662.3,619.4 663.4,617.3 664.5,615.3 665.6,613.2 666.7,612.4 667.8,611.6 668.9,610.8 670.0,610.0 671.1,609.2 672.2,609.0 673.3,609.3 674.4,609.6 675.5,609.9 676.6,610.2 677.7,609.8 678.9,609.4 680.0,609.0 681.1,609.8 682.2,611.9 683.3,614.0 684.4,618.5 685.5,623.0 686.6,627.5 687.7,629.4 688.8,631.3 689.9,633.2 691.0,635.1 692.1,637.0 693.2,639.1 694.3,641.5 695.5,643.8 696.6,646.1 697.7,648.4 698.8,650.7 699.9,653.1 701.0,654.8 702.1,656.5 703.2,658.2 704.3,659.9 705.4,661.6 706.5,663.3 707.6,665.0 708.7,665.5 709.8,665.9 710.9,666.4 712.1,666.9 713.2,667.3 714.3,667.8 715.4,668.5 716.5,669.3 717.6,670.2 718.7,671.1 719.8,672.0 720.9,672.9 722.0,673.8 723.1,674.7 724.2,675.5 725.3,677.0 726.4,678.5 727.5,680.0 728.7,681.5 729.8,683.0 730.9,684.5 732.0,683.8 733.1,681.1 734.2,678.3 735.3,675.5 736.4,670.7 737.5,663.9 738.6,657.1 739.7,650.3 740.8,644.4 741.9,639.2 743.0,634.5 744.1,630.5 745.3,626.7 746.4,623.7 747.5,620.8 748.6,617.8 749.7,614.8 750.8,613.0 751.9,611.1 753.0,609.3 754.1,607.5 755.2,606.1 756.3,605.1 757.4,604.1 758.5,603.2 759.6,602.2 760.7,601.3 761.9,602.8 763.0,604.3 764.1,605.8 765.2,608.3 766.3,611.9 767.4,615.4 768.5,618.9 769.6,622.5 770.7,626.0 771.8,628.1 772.9,630.2 774.0,632.3 775.1,634.5 776.2,636.6 777.3,638.7 778.4,640.8 779.6,643.0 780.7,645.1 781.8,647.2 782.9,649.4 784.0,651.5 785.1,653.0 786.2,654.5 787.3,656.0 788.4,657.5 789.5,658.6 790.6,659.7 791.7,660.8 792.8,662.0 793.9,663.1 795.0,664.2 796.2,665.3 797.3,666.5 798.4,667.9 799.5,669.3 800.6,670.7 801.7,672.1 802.8,673.6 803.9,675.0 805.0,676.4 806.1,677.8 807.2,678.9 808.3,679.6 809.4,680.2 810.5,680.9 811.6,681.6 812.8,682.3 813.9,683.0 815.0,684.0 816.1,685.1 817.2,686.2 818.3,687.3 819.4,688.4 820.5,687.6 821.6,684.9 822.7,682.2 823.8,674.7 824.9,663.7 826.0,658.2 827.1,649.0 828.2,644.0 829.4,637.5 830.5,632.2 831.6,628.1 832.7,624.4 833.8,621.1 834.9,617.9 836.0,615.0 837.1,612.2 838.2,609.4 839.3,607.1 840.4,605.5 841.5,603.9 842.6,602.2 843.7,600.6 844.8,603.0 846.0,605.5 847.1,608.0 848.2,610.5 849.3,613.4 850.4,616.4 851.5,619.3 852.6,622.3 853.7,625.0 854.8,627.5 855.9,630.0 857.0,632.5 858.1,634.4 859.2,636.1 860.3,637.8 861.4,639.5 862.6,641.2 863.7,642.9 864.8,644.7 865.9,646.6 867.0,648.5 868.1,650.4 869.2,652.3 870.3,654.2 871.4,656.1 872.5,657.4 873.6,658.3 874.7,659.1 875.8,659.9 876.9,660.7 878.0,661.7 879.2,662.6 880.3,663.5 881.4,664.5 882.5,665.4 883.6,666.3 884.7,666.5 885.8,666.8 886.9,667.0 888.0,667.2 889.1,667.4 890.2,667.6 891.3,668.4 892.4,669.3 893.5,670.2 894.6,671.2 895.7,672.1 896.9,673.0 898.0,673.8 899.1,674.6 900.2,675.4 901.3,676.2 902.4,677.0 903.5,677.8 904.6,678.6 905.7,677.8 906.8,675.4 907.9,673.0 909.0,663.7 910.1,657.9 911.2,652.0 912.3,642.4 913.5,637.2 914.6,631.8 915.7,626.0 916.8,619.8 917.9,616.7 919.0,613.5 920.1,610.9 921.2,609.0 922.3,607.1 923.4,605.1 924.5,603.6 925.6,602.3 926.7,601.0 927.8,599.8 928.9,599.3 930.1,598.7 931.2,598.2 932.3,597.6" fill="none" stroke="#3c3c3c" stroke-width="1.2"/>
<g fill="#a8a8a8" stroke="#3e3e3e" stroke-width="1.4"><circle cx="602.5" cy="700.9" r="2.35"/><circle cx="603.6" cy="700.4" r="2.35"/><circle cx="604.7" cy="699.9" r="2.35"/><circle cx="605.8" cy="699.9" r="2.35"/><circle cx="606.9" cy="700.4" r="2.35"/><circle cx="608.0" cy="700.9" r="2.35"/><circle cx="609.1" cy="701.2" r="2.35"/><circle cx="610.2" cy="701.6" r="2.35"/><circle cx="611.4" cy="701.9" r="2.35"/><circle cx="612.5" cy="702.3" r="2.35"/><circle cx="613.6" cy="702.3" r="2.35"/><circle cx="614.7" cy="702.0" r="2.35"/><circle cx="615.8" cy="701.7" r="2.35"/><circle cx="616.9" cy="701.7" r="2.35"/><circle cx="618.0" cy="702.2" r="2.35"/><circle cx="619.1" cy="702.7" r="2.35"/><circle cx="620.2" cy="702.0" r="2.35"/><circle cx="621.3" cy="701.3" r="2.35"/><circle cx="622.4" cy="700.5" r="2.35"/><circle cx="623.5" cy="699.8" r="2.35"/><circle cx="624.6" cy="699.0" r="2.35"/><circle cx="625.7" cy="698.3" r="2.35"/><circle cx="626.8" cy="698.1" r="2.35"/><circle cx="628.0" cy="698.4" r="2.35"/><circle cx="629.1" cy="698.8" r="2.35"/><circle cx="630.2" cy="699.1" r="2.35"/><circle cx="631.3" cy="698.6" r="2.35"/><circle cx="632.4" cy="698.1" r="2.35"/><circle cx="633.5" cy="698.0" r="2.35"/><circle cx="634.6" cy="698.3" r="2.35"/><circle cx="635.7" cy="698.5" r="2.35"/><circle cx="636.8" cy="697.7" r="2.35"/><circle cx="637.9" cy="696.9" r="2.35"/><circle cx="639.0" cy="695.0" r="2.35"/><circle cx="640.1" cy="692.0" r="2.35"/><circle cx="641.2" cy="686.0" r="2.35"/><circle cx="642.3" cy="680.0" r="2.35"/><circle cx="643.4" cy="673.2" r="2.35"/><circle cx="644.6" cy="665.8" r="2.35"/><circle cx="645.7" cy="660.3" r="2.35"/><circle cx="646.8" cy="656.9" r="2.35"/><circle cx="647.9" cy="653.4" r="2.35"/><circle cx="649.0" cy="650.0" r="2.35"/><circle cx="650.1" cy="647.0" r="2.35"/><circle cx="651.2" cy="644.0" r="2.35"/><circle cx="652.3" cy="641.0" r="2.35"/><circle cx="653.4" cy="638.0" r="2.35"/><circle cx="654.5" cy="635.5" r="2.35"/><circle cx="655.6" cy="633.1" r="2.35"/><circle cx="656.7" cy="630.6" r="2.35"/><circle cx="657.8" cy="628.2" r="2.35"/><circle cx="658.9" cy="625.7" r="2.35"/><circle cx="660.0" cy="623.5" r="2.35"/><circle cx="661.1" cy="621.4" r="2.35"/><circle cx="662.3" cy="619.4" r="2.35"/><circle cx="663.4" cy="617.3" r="2.35"/><circle cx="664.5" cy="615.3" r="2.35"/><circle cx="665.6" cy="613.2" r="2.35"/><circle cx="666.7" cy="612.4" r="2.35"/><circle cx="667.8" cy="611.6" r="2.35"/><circle cx="668.9" cy="610.8" r="2.35"/><circle cx="670.0" cy="610.0" r="2.35"/><circle cx="671.1" cy="609.2" r="2.35"/><circle cx="672.2" cy="609.0" r="2.35"/><circle cx="673.3" cy="609.3" r="2.35"/><circle cx="674.4" cy="609.6" r="2.35"/><circle cx="675.5" cy="609.9" r="2.35"/><circle cx="676.6" cy="610.2" r="2.35"/><circle cx="677.7" cy="609.8" r="2.35"/><circle cx="678.9" cy="609.4" r="2.35"/><circle cx="680.0" cy="609.0" r="2.35"/><circle cx="681.1" cy="609.8" r="2.35"/><circle cx="682.2" cy="611.9" r="2.35"/><circle cx="683.3" cy="614.0" r="2.35"/><circle cx="684.4" cy="618.5" r="2.35"/><circle cx="685.5" cy="623.0" r="2.35"/><circle cx="686.6" cy="627.5" r="2.35"/><circle cx="687.7" cy="629.4" r="2.35"/><circle cx="688.8" cy="631.3" r="2.35"/><circle cx="689.9" cy="633.2" r="2.35"/><circle cx="691.0" cy="635.1" r="2.35"/><circle cx="692.1" cy="637.0" r="2.35"/><circle cx="693.2" cy="639.1" r="2.35"/><circle cx="694.3" cy="641.5" r="2.35"/><circle cx="695.5" cy="643.8" r="2.35"/><circle cx="696.6" cy="646.1" r="2.35"/><circle cx="697.7" cy="648.4" r="2.35"/><circle cx="698.8" cy="650.7" r="2.35"/><circle cx="699.9" cy="653.1" r="2.35"/><circle cx="701.0" cy="654.8" r="2.35"/><circle cx="702.1" cy="656.5" r="2.35"/><circle cx="703.2" cy="658.2" r="2.35"/><circle cx="704.3" cy="659.9" r="2.35"/><circle cx="705.4" cy="661.6" r="2.35"/><circle cx="706.5" cy="663.3" r="2.35"/><circle cx="707.6" cy="665.0" r="2.35"/><circle cx="708.7" cy="665.5" r="2.35"/><circle cx="709.8" cy="665.9" r="2.35"/><circle cx="710.9" cy="666.4" r="2.35"/><circle cx="712.1" cy="666.9" r="2.35"/><circle cx="713.2" cy="667.3" r="2.35"/><circle cx="714.3" cy="667.8" r="2.35"/><circle cx="715.4" cy="668.5" r="2.35"/><circle cx="716.5" cy="669.3" r="2.35"/><circle cx="717.6" cy="670.2" r="2.35"/><circle cx="718.7" cy="671.1" r="2.35"/><circle cx="719.8" cy="672.0" r="2.35"/><circle cx="720.9" cy="672.9" r="2.35"/><circle cx="722.0" cy="673.8" r="2.35"/><circle cx="723.1" cy="674.7" r="2.35"/><circle cx="724.2" cy="675.5" r="2.35"/><circle cx="725.3" cy="677.0" r="2.35"/><circle cx="726.4" cy="678.5" r="2.35"/><circle cx="727.5" cy="680.0" r="2.35"/><circle cx="728.7" cy="681.5" r="2.35"/><circle cx="729.8" cy="683.0" r="2.35"/><circle cx="730.9" cy="684.5" r="2.35"/><circle cx="732.0" cy="683.8" r="2.35"/><circle cx="733.1" cy="681.1" r="2.35"/><circle cx="734.2" cy="678.3" r="2.35"/><circle cx="735.3" cy="675.5" r="2.35"/><circle cx="736.4" cy="670.7" r="2.35"/><circle cx="737.5" cy="663.9" r="2.35"/><circle cx="738.6" cy="657.1" r="2.35"/><circle cx="739.7" cy="650.3" r="2.35"/><circle cx="740.8" cy="644.4" r="2.35"/><circle cx="741.9" cy="639.2" r="2.35"/><circle cx="743.0" cy="634.5" r="2.35"/><circle cx="744.1" cy="630.5" r="2.35"/><circle cx="745.3" cy="626.7" r="2.35"/><circle cx="746.4" cy="623.7" r="2.35"/><circle cx="747.5" cy="620.8" r="2.35"/><circle cx="748.6" cy="617.8" r="2.35"/><circle cx="749.7" cy="614.8" r="2.35"/><circle cx="750.8" cy="613.0" r="2.35"/><circle cx="751.9" cy="611.1" r="2.35"/><circle cx="753.0" cy="609.3" r="2.35"/><circle cx="754.1" cy="607.5" r="2.35"/><circle cx="755.2" cy="606.1" r="2.35"/><circle cx="756.3" cy="605.1" r="2.35"/><circle cx="757.4" cy="604.1" r="2.35"/><circle cx="758.5" cy="603.2" r="2.35"/><circle cx="759.6" cy="602.2" r="2.35"/><circle cx="760.7" cy="601.3" r="2.35"/><circle cx="761.9" cy="602.8" r="2.35"/><circle cx="763.0" cy="604.3" r="2.35"/><circle cx="764.1" cy="605.8" r="2.35"/><circle cx="765.2" cy="608.3" r="2.35"/><circle cx="766.3" cy="611.9" r="2.35"/><circle cx="767.4" cy="615.4" r="2.35"/><circle cx="768.5" cy="618.9" r="2.35"/><circle cx="769.6" cy="622.5" r="2.35"/><circle cx="770.7" cy="626.0" r="2.35"/><circle cx="771.8" cy="628.1" r="2.35"/><circle cx="772.9" cy="630.2" r="2.35"/><circle cx="774.0" cy="632.3" r="2.35"/><circle cx="775.1" cy="634.5" r="2.35"/><circle cx="776.2" cy="636.6" r="2.35"/><circle cx="777.3" cy="638.7" r="2.35"/><circle cx="778.4" cy="640.8" r="2.35"/><circle cx="779.6" cy="643.0" r="2.35"/><circle cx="780.7" cy="645.1" r="2.35"/><circle cx="781.8" cy="647.2" r="2.35"/><circle cx="782.9" cy="649.4" r="2.35"/><circle cx="784.0" cy="651.5" r="2.35"/><circle cx="785.1" cy="653.0" r="2.35"/><circle cx="786.2" cy="654.5" r="2.35"/><circle cx="787.3" cy="656.0" r="2.35"/><circle cx="788.4" cy="657.5" r="2.35"/><circle cx="789.5" cy="658.6" r="2.35"/><circle cx="790.6" cy="659.7" r="2.35"/><circle cx="791.7" cy="660.8" r="2.35"/><circle cx="792.8" cy="662.0" r="2.35"/><circle cx="793.9" cy="663.1" r="2.35"/><circle cx="795.0" cy="664.2" r="2.35"/><circle cx="796.2" cy="665.3" r="2.35"/><circle cx="797.3" cy="666.5" r="2.35"/><circle cx="798.4" cy="667.9" r="2.35"/><circle cx="799.5" cy="669.3" r="2.35"/><circle cx="800.6" cy="670.7" r="2.35"/><circle cx="801.7" cy="672.1" r="2.35"/><circle cx="802.8" cy="673.6" r="2.35"/><circle cx="803.9" cy="675.0" r="2.35"/><circle cx="805.0" cy="676.4" r="2.35"/><circle cx="806.1" cy="677.8" r="2.35"/><circle cx="807.2" cy="678.9" r="2.35"/><circle cx="808.3" cy="679.6" r="2.35"/><circle cx="809.4" cy="680.2" r="2.35"/><circle cx="810.5" cy="680.9" r="2.35"/><circle cx="811.6" cy="681.6" r="2.35"/><circle cx="812.8" cy="682.3" r="2.35"/><circle cx="813.9" cy="683.0" r="2.35"/><circle cx="815.0" cy="684.0" r="2.35"/><circle cx="816.1" cy="685.1" r="2.35"/><circle cx="817.2" cy="686.2" r="2.35"/><circle cx="818.3" cy="687.3" r="2.35"/><circle cx="819.4" cy="688.4" r="2.35"/><circle cx="820.5" cy="687.6" r="2.35"/><circle cx="821.6" cy="684.9" r="2.35"/><circle cx="822.7" cy="682.2" r="2.35"/><circle cx="823.8" cy="674.7" r="2.35"/><circle cx="824.9" cy="663.7" r="2.35"/><circle cx="826.0" cy="658.2" r="2.35"/><circle cx="827.1" cy="649.0" r="2.35"/><circle cx="828.2" cy="644.0" r="2.35"/><circle cx="829.4" cy="637.5" r="2.35"/><circle cx="830.5" cy="632.2" r="2.35"/><circle cx="831.6" cy="628.1" r="2.35"/><circle cx="832.7" cy="624.4" r="2.35"/><circle cx="833.8" cy="621.1" r="2.35"/><circle cx="834.9" cy="617.9" r="2.35"/><circle cx="836.0" cy="615.0" r="2.35"/><circle cx="837.1" cy="612.2" r="2.35"/><circle cx="838.2" cy="609.4" r="2.35"/><circle cx="839.3" cy="607.1" r="2.35"/><circle cx="840.4" cy="605.5" r="2.35"/><circle cx="841.5" cy="603.9" r="2.35"/><circle cx="842.6" cy="602.2" r="2.35"/><circle cx="843.7" cy="600.6" r="2.35"/><circle cx="844.8" cy="603.0" r="2.35"/><circle cx="846.0" cy="605.5" r="2.35"/><circle cx="847.1" cy="608.0" r="2.35"/><circle cx="848.2" cy="610.5" r="2.35"/><circle cx="849.3" cy="613.4" r="2.35"/><circle cx="850.4" cy="616.4" r="2.35"/><circle cx="851.5" cy="619.3" r="2.35"/><circle cx="852.6" cy="622.3" r="2.35"/><circle cx="853.7" cy="625.0" r="2.35"/><circle cx="854.8" cy="627.5" r="2.35"/><circle cx="855.9" cy="630.0" r="2.35"/><circle cx="857.0" cy="632.5" r="2.35"/><circle cx="858.1" cy="634.4" r="2.35"/><circle cx="859.2" cy="636.1" r="2.35"/><circle cx="860.3" cy="637.8" r="2.35"/><circle cx="861.4" cy="639.5" r="2.35"/><circle cx="862.6" cy="641.2" r="2.35"/><circle cx="863.7" cy="642.9" r="2.35"/><circle cx="864.8" cy="644.7" r="2.35"/><circle cx="865.9" cy="646.6" r="2.35"/><circle cx="867.0" cy="648.5" r="2.35"/><circle cx="868.1" cy="650.4" r="2.35"/><circle cx="869.2" cy="652.3" r="2.35"/><circle cx="870.3" cy="654.2" r="2.35"/><circle cx="871.4" cy="656.1" r="2.35"/><circle cx="872.5" cy="657.4" r="2.35"/><circle cx="873.6" cy="658.3" r="2.35"/><circle cx="874.7" cy="659.1" r="2.35"/><circle cx="875.8" cy="659.9" r="2.35"/><circle cx="876.9" cy="660.7" r="2.35"/><circle cx="878.0" cy="661.7" r="2.35"/><circle cx="879.2" cy="662.6" r="2.35"/><circle cx="880.3" cy="663.5" r="2.35"/><circle cx="881.4" cy="664.5" r="2.35"/><circle cx="882.5" cy="665.4" r="2.35"/><circle cx="883.6" cy="666.3" r="2.35"/><circle cx="884.7" cy="666.5" r="2.35"/><circle cx="885.8" cy="666.8" r="2.35"/><circle cx="886.9" cy="667.0" r="2.35"/><circle cx="888.0" cy="667.2" r="2.35"/><circle cx="889.1" cy="667.4" r="2.35"/><circle cx="890.2" cy="667.6" r="2.35"/><circle cx="891.3" cy="668.4" r="2.35"/><circle cx="892.4" cy="669.3" r="2.35"/><circle cx="893.5" cy="670.2" r="2.35"/><circle cx="894.6" cy="671.2" r="2.35"/><circle cx="895.7" cy="672.1" r="2.35"/><circle cx="896.9" cy="673.0" r="2.35"/><circle cx="898.0" cy="673.8" r="2.35"/><circle cx="899.1" cy="674.6" r="2.35"/><circle cx="900.2" cy="675.4" r="2.35"/><circle cx="901.3" cy="676.2" r="2.35"/><circle cx="902.4" cy="677.0" r="2.35"/><circle cx="903.5" cy="677.8" r="2.35"/><circle cx="904.6" cy="678.6" r="2.35"/><circle cx="905.7" cy="677.8" r="2.35"/><circle cx="906.8" cy="675.4" r="2.35"/><circle cx="907.9" cy="673.0" r="2.35"/><circle cx="909.0" cy="663.7" r="2.35"/><circle cx="910.1" cy="657.9" r="2.35"/><circle cx="911.2" cy="652.0" r="2.35"/><circle cx="912.3" cy="642.4" r="2.35"/><circle cx="913.5" cy="637.2" r="2.35"/><circle cx="914.6" cy="631.8" r="2.35"/><circle cx="915.7" cy="626.0" r="2.35"/><circle cx="916.8" cy="619.8" r="2.35"/><circle cx="917.9" cy="616.7" r="2.35"/><circle cx="919.0" cy="613.5" r="2.35"/><circle cx="920.1" cy="610.9" r="2.35"/><circle cx="921.2" cy="609.0" r="2.35"/><circle cx="922.3" cy="607.1" r="2.35"/><circle cx="923.4" cy="605.1" r="2.35"/><circle cx="924.5" cy="603.6" r="2.35"/><circle cx="925.6" cy="602.3" r="2.35"/><circle cx="926.7" cy="601.0" r="2.35"/><circle cx="927.8" cy="599.8" r="2.35"/><circle cx="928.9" cy="599.3" r="2.35"/><circle cx="930.1" cy="598.7" r="2.35"/><circle cx="931.2" cy="598.2" r="2.35"/><circle cx="932.3" cy="597.6" r="2.35"/></g>
<line x1="802.2" y1="569.9" x2="837" y2="569.9" stroke="#444" stroke-width="2"/><circle cx="819.6" cy="569.9" r="2.8" fill="#aaa" stroke="#3a3a3a" stroke-width="1.4"/>
<line x1="802.2" y1="588.5" x2="837" y2="588.5" stroke="#e03535" stroke-width="2"/><circle cx="819.6" cy="588.5" r="2.8" fill="#f4a8a8" stroke="#e03030" stroke-width="1.4"/>
<text x="841.7" y="574.6" font-size="14.5" font-weight="normal" fill="#000" text-anchor="start" textLength="49.3" lengthAdjust="spacingAndGlyphs" >Voltage</text>
<text x="841.7" y="593.2" font-size="14.5" font-weight="normal" fill="#000" text-anchor="start" textLength="84" lengthAdjust="spacingAndGlyphs" >Temperature</text></svg>
</body></html>
